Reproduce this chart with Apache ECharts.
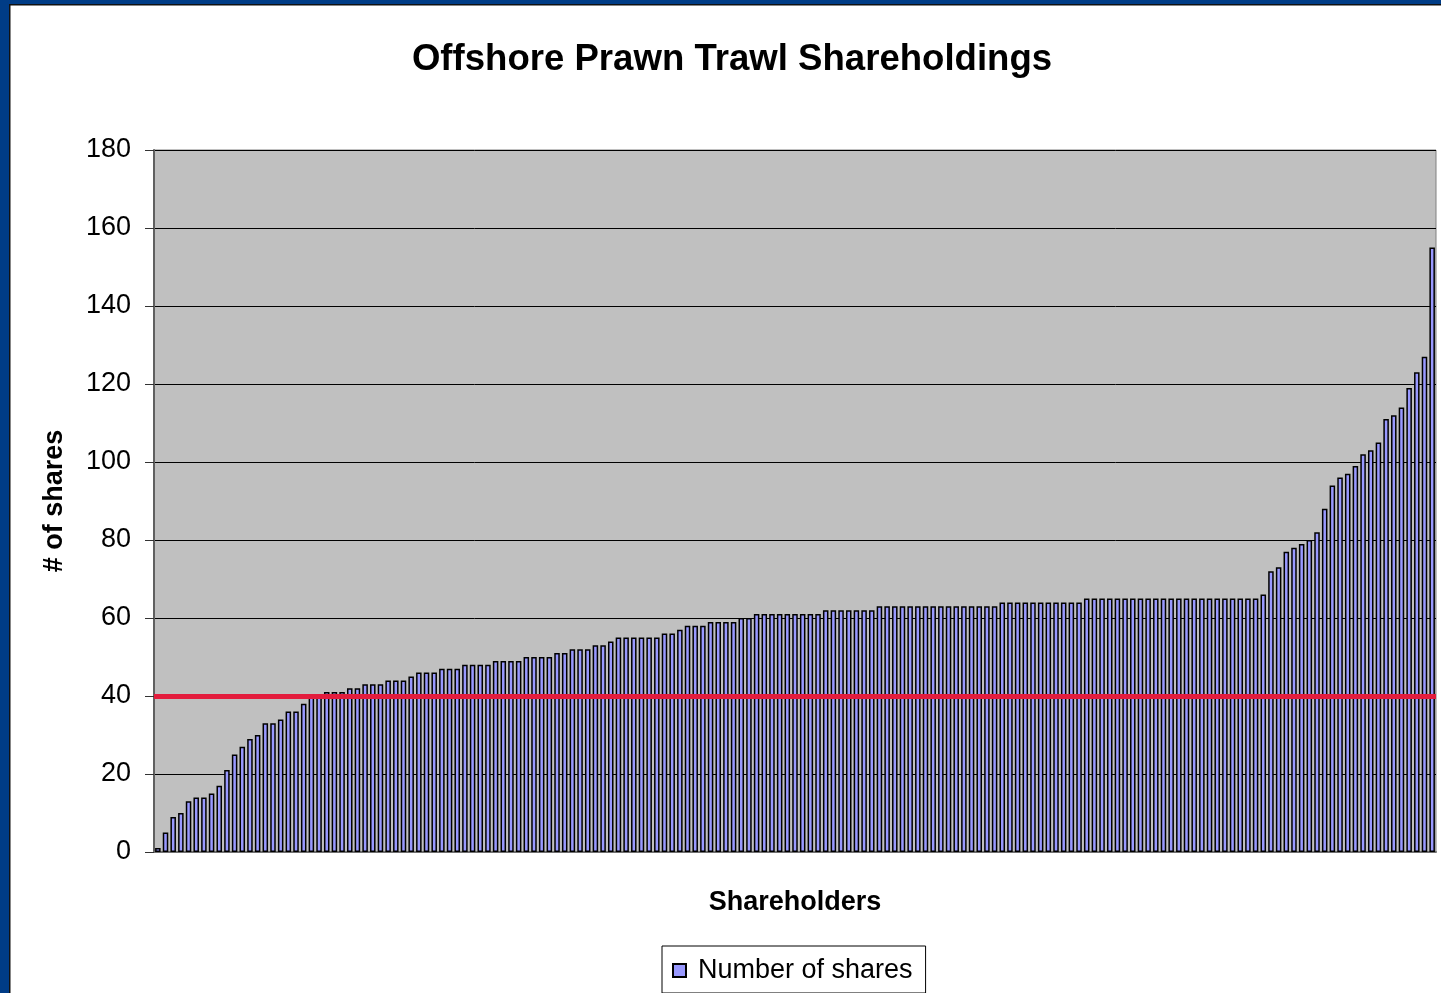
<!DOCTYPE html>
<html>
<head>
<meta charset="utf-8">
<title>Offshore Prawn Trawl Shareholdings</title>
<script src="https://cdn.jsdelivr.net/npm/echarts@6/dist/echarts.min.js"></script>
<style>
  html, body { margin: 0; padding: 0; background: #fff; }
  #chart { width: 1441px; height: 993px; }
</style>
</head>
<body>
<div id="chart"></div>
<script>
// shares held by each shareholder, sorted ascending
const shares = [
  1, 5, 9, 10, 13, 14, 14, 15, 17, 21,
  25, 27, 29, 30, 33, 33, 34, 36, 36, 38,
  40, 40, 41, 41, 41, 42, 42, 43, 43, 43,
  44, 44, 44, 45, 46, 46, 46, 47, 47, 47,
  48, 48, 48, 48, 49, 49, 49, 49, 50, 50,
  50, 50, 51, 51, 52, 52, 52, 53, 53, 54,
  55, 55, 55, 55, 55, 55, 56, 56, 57, 58,
  58, 58, 59, 59, 59, 59, 60, 60, 61, 61,
  61, 61, 61, 61, 61, 61, 61, 62, 62, 62,
  62, 62, 62, 62, 63, 63, 63, 63, 63, 63,
  63, 63, 63, 63, 63, 63, 63, 63, 63, 63,
  64, 64, 64, 64, 64, 64, 64, 64, 64, 64,
  64, 65, 65, 65, 65, 65, 65, 65, 65, 65,
  65, 65, 65, 65, 65, 65, 65, 65, 65, 65,
  65, 65, 65, 65, 66, 72, 73, 77, 78, 79,
  80, 82, 88, 94, 96, 97, 99, 102, 103, 105,
  111, 112, 114, 119, 123, 127, 155
];
// one category per shareholder
const shareholders = shares.map((_, i) => 'Shareholder ' + (i + 1));
// threshold drawn as the red line
const threshold = 40;

const FONT = '"Liberation Sans", Arial, sans-serif';
const frameBlue = '#003c86';

const chart = echarts.init(document.getElementById('chart'));
chart.setOption({
  backgroundColor: '#ffffff',
  animation: false,
  textStyle: { fontFamily: FONT },
  graphic: [
    // blue outer frame (left and top) with its thin black inner edge
    { type: 'rect', left: 0, top: 0, shape: { width: 9, height: 993 }, style: { fill: frameBlue } },
    { type: 'rect', left: 0, top: 0, shape: { width: 1441, height: 4 }, style: { fill: frameBlue } },
    { type: 'rect', left: 9, top: 4, shape: { width: 1.5, height: 989 }, style: { fill: '#111' } },
    { type: 'rect', left: 9, top: 4, shape: { width: 1432, height: 1.5 }, style: { fill: '#111' } }
  ],
  title: {
    text: 'Offshore Prawn Trawl Shareholdings',
    left: 727,
    top: 36,
    textAlign: 'center',
    textStyle: { fontFamily: FONT, fontSize: 36.6, fontWeight: 'bold', color: '#000' }
  },
  legend: {
    data: ['Number of shares'],
    left: 662,
    top: 946,
    orient: 'horizontal',
    icon: 'rect',
    itemWidth: 13,
    itemHeight: 13,
    padding: [11, 13, 9, 10],
    borderColor: '#000',
    borderWidth: 1,
    backgroundColor: '#fff',
    textStyle: { fontFamily: FONT, fontSize: 27, color: '#000', padding: [0, 0, 0, 7] }
  },
  grid: {
    left: 154,
    right: 5,
    top: 150,
    bottom: 141,
    show: true,
    backgroundColor: '#c0c0c0',
    borderColor: '#808080',
    borderWidth: 1
  },
  xAxis: {
    type: 'category',
    data: shareholders,
    name: 'Shareholders',
    nameLocation: 'middle',
    nameGap: 37,
    nameTextStyle: { fontFamily: FONT, fontSize: 27, fontWeight: 'bold', color: '#000' },
    axisLine: { show: true, lineStyle: { color: '#707070', width: 2 } },
    axisTick: { show: false },
    axisLabel: { show: false },
    splitLine: { show: false }
  },
  yAxis: {
    type: 'value',
    min: 0,
    max: 180,
    interval: 20,
    name: '# of shares',
    nameLocation: 'middle',
    nameGap: 86,
    nameTextStyle: { fontFamily: FONT, fontSize: 27, fontWeight: 'bold', color: '#000' },
    axisLine: { show: true, lineStyle: { color: '#606060', width: 2 } },
    axisTick: { show: true, length: 9, lineStyle: { color: '#333', width: 1 } },
    axisLabel: { margin: 23, fontFamily: FONT, fontSize: 27, color: '#000' },
    splitLine: { show: true, lineStyle: { color: '#000', width: 1 } }
  },
  series: [
    {
      name: 'Number of shares',
      type: 'bar',
      data: shares,
      barCategoryGap: '28%',
      itemStyle: { color: '#9999ff', borderColor: '#000', borderWidth: 1.5 },
      markLine: {
        silent: true,
        symbol: ['none', 'none'],
        label: { show: false },
        lineStyle: { color: '#e31c3d', width: 5, type: 'solid' },
        data: [{ yAxis: threshold }]
      }
    }
  ]
});
</script>
</body>
</html>
